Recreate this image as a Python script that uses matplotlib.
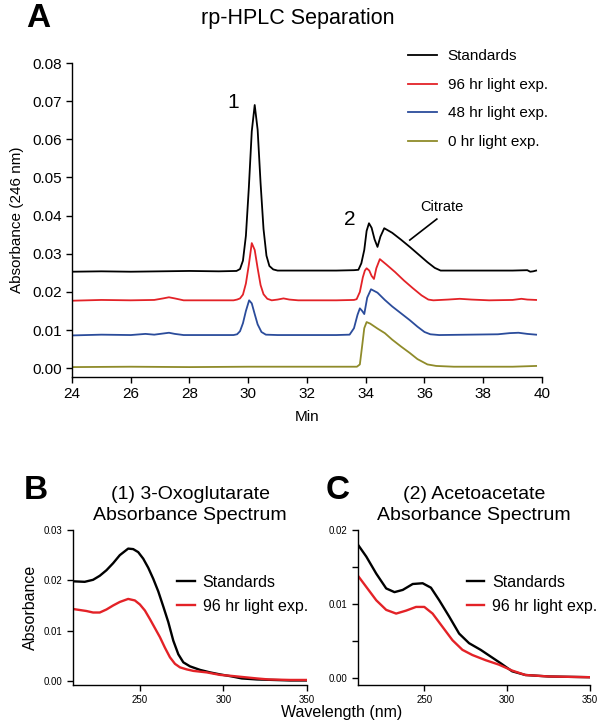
import matplotlib
matplotlib.use('Agg')
import matplotlib.pyplot as plt

plt.rcParams['font.family'] = ['Liberation Sans', 'DejaVu Sans']

# ---- Panel A: rp-HPLC chromatograms (time in min, absorbance at 246 nm) ----
std_t = [24.0, 25.0, 26.0, 27.0, 28.0, 29.0, 29.6, 29.72, 29.82, 29.92, 30.02, 30.12,
         30.22, 30.32, 30.42, 30.52, 30.62, 30.72, 30.85, 31.0, 32.0, 33.0, 33.6, 33.75,
         33.85, 33.95, 34.03, 34.11, 34.2, 34.3, 34.4, 34.5, 34.63, 34.9, 35.2, 35.5,
         35.8, 36.1, 36.35, 36.55, 37.0, 38.0, 39.0, 39.5, 39.6, 39.7, 39.8]
std_a = [0.0253, 0.0254, 0.0253, 0.0254, 0.0255, 0.0254, 0.0255, 0.0260, 0.0282, 0.0347,
         0.0473, 0.0621, 0.0690, 0.0625, 0.0485, 0.0365, 0.0295, 0.0268, 0.0259, 0.0256,
         0.0256, 0.0256, 0.0257, 0.0258, 0.0275, 0.0310, 0.0360, 0.0380, 0.0368, 0.0338,
         0.0318, 0.0345, 0.0367, 0.0355, 0.0337, 0.0318, 0.0298, 0.0278, 0.0263, 0.0256,
         0.0256, 0.0256, 0.0256, 0.0257, 0.0253, 0.0254, 0.0256]

h96_t = [24.0, 25.0, 26.0, 26.8, 27.1, 27.3, 27.5, 27.8, 28.5, 29.5, 29.62, 29.72, 29.82,
         29.92, 30.02, 30.12, 30.22, 30.32, 30.42, 30.52, 30.65, 30.8, 31.0, 31.2, 31.4,
         31.7, 33.0, 33.6, 33.69, 33.8, 33.9, 33.97, 34.03, 34.12, 34.2, 34.28, 34.36,
         34.48, 34.7, 35.0, 35.3, 35.6, 35.9, 36.13, 36.3, 36.8, 37.2, 37.6, 38.2, 39.0,
         39.3, 39.5, 39.8]
h96_a = [0.0177, 0.0179, 0.0178, 0.0179, 0.0183, 0.0186, 0.0183, 0.0178, 0.0178, 0.0178,
         0.0180, 0.0183, 0.0193, 0.0222, 0.0271, 0.0328, 0.0310, 0.0262, 0.0218, 0.0194,
         0.0182, 0.0178, 0.0180, 0.0183, 0.0180, 0.0178, 0.0178, 0.0179, 0.0181, 0.0200,
         0.0238, 0.0256, 0.0262, 0.0256, 0.0242, 0.0234, 0.0262, 0.0286, 0.0272, 0.0252,
         0.0230, 0.0210, 0.0191, 0.0180, 0.0178, 0.0180, 0.0182, 0.0180, 0.0178, 0.0179,
         0.0182, 0.0180, 0.0179]

h48_t = [24.0, 25.0, 26.0, 26.5, 26.8, 27.1, 27.3, 27.5, 27.8, 29.0, 29.5, 29.62, 29.72,
         29.82, 29.92, 30.03, 30.12, 30.22, 30.32, 30.45, 30.6, 31.0, 32.0, 33.0, 33.45,
         33.6, 33.72, 33.8, 33.88, 33.95, 34.05, 34.18, 34.4, 34.65, 34.9, 35.2, 35.5,
         35.76, 36.0, 36.2, 36.5, 37.5, 38.5, 38.9, 39.2, 39.5, 39.8]
h48_a = [0.0086, 0.0088, 0.0087, 0.0090, 0.0088, 0.0091, 0.0093, 0.0090, 0.0087, 0.0087,
         0.0087, 0.0089, 0.0097, 0.0118, 0.0150, 0.0178, 0.0170, 0.0142, 0.0115, 0.0095,
         0.0088, 0.0087, 0.0087, 0.0087, 0.0088, 0.0105, 0.0140, 0.0157, 0.0150, 0.0142,
         0.0185, 0.0207, 0.0198, 0.0179, 0.0162, 0.0144, 0.0126, 0.0109, 0.0095, 0.0089,
         0.0087, 0.0088, 0.0089, 0.0092, 0.0093, 0.0090, 0.0088]

h0_t = [24.0, 26.0, 28.0, 30.0, 32.0, 33.7, 33.8, 33.88, 33.95, 34.03, 34.15, 34.4, 34.65,
        34.9, 35.2, 35.5, 35.76, 36.1, 36.4, 37.0, 38.0, 39.0, 39.8]
h0_a = [0.0003, 0.0004, 0.0003, 0.0004, 0.0004, 0.0004, 0.0010, 0.0060, 0.0105, 0.0121,
        0.0117, 0.0104, 0.0092, 0.0075, 0.0057, 0.0040, 0.0024, 0.0010, 0.0006, 0.0004,
        0.0004, 0.0004, 0.0006]

hplc_labels = ['Standards', '96 hr light exp.', '48 hr light exp.', '0 hr light exp.']

# ---- Panel B: 3-oxoglutarate spectra ----
oxo_wl_std = [210, 217, 222, 226, 230, 234, 238, 243, 246, 249, 252, 255, 258, 261, 264,
              267, 270, 273, 276, 280, 286, 292, 298, 305, 311, 320, 330, 340, 350]
oxo_std = [0.0198, 0.0197, 0.0201, 0.0209, 0.0220, 0.0234, 0.0250, 0.0263, 0.0262, 0.0256,
           0.0243, 0.0225, 0.0203, 0.0178, 0.0148, 0.0117, 0.0080, 0.0053, 0.0037, 0.0029,
           0.0022, 0.0017, 0.0013, 0.0009, 0.0005, 0.0003, 0.0002, 0.0001, 0.0001]
oxo_wl_96 = [210, 214, 218, 222, 226, 230, 234, 238, 243, 247, 250, 253, 256, 259, 262,
             265, 268, 271, 274, 278, 282, 290, 298, 305, 311, 320, 327, 340, 350]
oxo_96 = [0.0143, 0.0141, 0.0139, 0.0136, 0.0136, 0.0142, 0.0150, 0.0157, 0.0163, 0.0160,
          0.0152, 0.0140, 0.0123, 0.0105, 0.0087, 0.0066, 0.0047, 0.0034, 0.0027, 0.0023,
          0.0020, 0.0017, 0.0012, 0.0010, 0.0008, 0.0005, 0.0003, 0.0002, 0.0002]

# ---- Panel C: acetoacetate spectra ----
aca_wl_std = [210, 215, 221, 227, 232, 237, 243, 249, 254, 259, 265, 271, 277, 284, 290,
              296, 303, 311, 325, 350]
aca_std = [0.0180, 0.0164, 0.0141, 0.0121, 0.0116, 0.0119, 0.0127, 0.0128, 0.0122, 0.0105,
           0.0083, 0.0060, 0.0047, 0.0038, 0.0029, 0.0020, 0.0009, 0.0004, 0.0002, 0.0001]
aca_wl_96 = [210, 215, 221, 227, 233, 239, 245, 250, 255, 261, 267, 273, 279, 287, 295,
             303, 311, 325, 350]
aca_96 = [0.0138, 0.0123, 0.0105, 0.0092, 0.0087, 0.0091, 0.0096, 0.0096, 0.0087, 0.0069,
          0.0051, 0.0038, 0.0031, 0.0024, 0.0018, 0.0010, 0.0004, 0.0002, 0.0001]

spec_labels = ['Standards', '96 hr light exp.']

BLACK = '#000000'
RED = '#e32227'
BLUE = '#2b4c9b'
OLIVE = '#8f8b2a'


def style_axes(ax, labelsize):
    """Prism-like axes: left/bottom spines only, outward ticks."""
    for side in ('top', 'right'):
        ax.spines[side].set_visible(False)
    for side in ('left', 'bottom'):
        ax.spines[side].set_linewidth(1.0)
    ax.tick_params(direction='out', length=4, width=1.0, labelsize=labelsize)


fig = plt.figure(figsize=(6.0, 7.26), dpi=100)

# Panel A
axA = fig.add_axes([0.12, 0.4807, 0.7833, 0.4325])
axA.plot(std_t, std_a, color=BLACK, lw=1.3, label=hplc_labels[0])
axA.plot(h96_t, h96_a, color=RED, lw=1.3, label=hplc_labels[1])
axA.plot(h48_t, h48_a, color=BLUE, lw=1.3, label=hplc_labels[2])
axA.plot(h0_t, h0_a, color=OLIVE, lw=1.3, label=hplc_labels[3])
axA.set_xlim(24, 40)
axA.set_ylim(-0.0023, 0.08)
axA.set_xticks(range(24, 41, 2))
axA.set_yticks([0.0, 0.01, 0.02, 0.03, 0.04, 0.05, 0.06, 0.07, 0.08])
axA.set_yticklabels([f'{v:.2f}' for v in axA.get_yticks()])
style_axes(axA, 11)
axA.set_xlabel('Min', fontsize=11, labelpad=6)
axA.set_ylabel('Absorbance (246 nm)', fontsize=11, labelpad=6)
axA.text(29.48, 0.0696, '1', fontsize=15, ha='center', va='center')
axA.text(33.45, 0.0389, '2', fontsize=15, ha='center', va='center')
axA.text(36.58, 0.0423, 'Citrate', fontsize=10.5, ha='center', va='center')
axA.plot([35.5, 36.42], [0.0336, 0.0391], color=BLACK, lw=1.2)
axA.legend(loc='upper left', bbox_to_anchor=(0.68, 0.932), bbox_transform=fig.transFigure,
           frameon=False, fontsize=11, handlelength=1.9, handletextpad=0.7,
           labelspacing=0.95, borderpad=0, borderaxespad=0)
fig.text(0.497, 0.975, 'rp-HPLC Separation', fontsize=15.5, ha='center', va='center')
fig.text(0.063, 0.975, 'A', fontsize=24, fontweight='bold', ha='center', va='center')

# Panel B
axB = fig.add_axes([0.1217, 0.0565, 0.39, 0.2135])
axB.plot(oxo_wl_std, oxo_std, color=BLACK, lw=1.7, label=spec_labels[0])
axB.plot(oxo_wl_96, oxo_96, color=RED, lw=1.7, label=spec_labels[1])
axB.set_xlim(210, 350)
axB.set_ylim(-0.0008, 0.03)
axB.set_xticks([250, 300, 350])
axB.set_yticks([0.0, 0.01, 0.02, 0.03])
axB.set_yticklabels([f'{v:.2f}' for v in axB.get_yticks()])
style_axes(axB, 7)
axB.set_ylabel('Absorbance', fontsize=11.5, labelpad=4)
axB.legend(loc='upper left', bbox_to_anchor=(0.295, 0.208), bbox_transform=fig.transFigure,
           frameon=False, fontsize=11.5, handlelength=1.1, handletextpad=0.5,
           labelspacing=0.55, borderpad=0, borderaxespad=0)
axB.set_title('(1) 3-Oxoglutarate\nAbsorbance Spectrum', fontsize=14, pad=7,
              linespacing=1.3)
fig.text(0.06, 0.325, 'B', fontsize=24, fontweight='bold', ha='center', va='center')

# Panel C
axC = fig.add_axes([0.5967, 0.0565, 0.3867, 0.2135])
axC.plot(aca_wl_std, aca_std, color=BLACK, lw=1.7, label=spec_labels[0])
axC.plot(aca_wl_96, aca_96, color=RED, lw=1.7, label=spec_labels[1])
axC.set_xlim(210, 350)
axC.set_ylim(-0.00095, 0.02)
axC.set_xticks([250, 300, 350])
axC.set_yticks([0.0, 0.01, 0.02])
axC.set_yticks([0.005, 0.015], minor=True)
axC.set_yticklabels([f'{v:.2f}' for v in axC.get_yticks()])
style_axes(axC, 7)
axC.tick_params(axis='y', which='minor', direction='out', length=4, width=1.0)
axC.legend(loc='upper left', bbox_to_anchor=(0.778, 0.208), bbox_transform=fig.transFigure,
           frameon=False, fontsize=11.5, handlelength=1.1, handletextpad=0.5,
           labelspacing=0.55, borderpad=0, borderaxespad=0)
axC.set_title('(2) Acetoacetate\nAbsorbance Spectrum', fontsize=14, pad=7,
              linespacing=1.3)
fig.text(0.563, 0.325, 'C', fontsize=24, fontweight='bold', ha='center', va='center')

fig.text(0.57, 0.018, 'Wavelength (nm)', fontsize=11.5, ha='center', va='center')

fig.savefig('out.png', dpi=100)
